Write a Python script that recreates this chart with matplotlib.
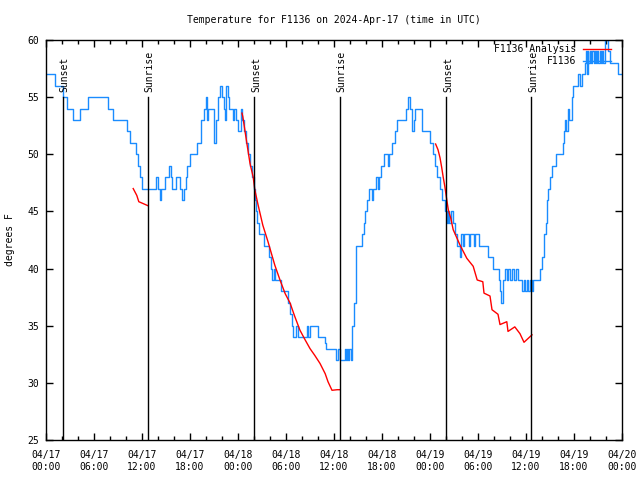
import matplotlib
matplotlib.use("Agg")
import matplotlib.pyplot as plt
import numpy as np

# ---------------- data (hours since 2024-04-17 00:00 UTC) ----------------
obs_hours = [0.0, 1.1, 2.1, 2.6, 3.4, 4.2, 5.2, 7.8, 8.4, 10.1, 10.5, 11.3, 11.5, 11.8, 11.95,
             13.7, 14.0, 14.2, 14.4, 14.9, 15.4, 15.6, 15.8, 16.3, 16.8, 17.0, 17.25, 17.5, 17.6,
             18.0, 18.9, 19.4, 19.7, 19.95, 20.15, 20.3, 21.0, 21.25, 21.5, 21.7, 22.05, 22.25,
             22.35, 22.45, 22.7, 22.85, 23.35, 23.55, 23.75, 23.95, 24.35, 24.55, 24.75, 25.0,
             25.3, 25.5, 25.75, 25.95, 26.15, 26.25, 26.4, 26.6, 27.3, 27.9, 28.1, 28.3, 28.5,
             28.6, 29.4, 30.2, 30.5, 30.8, 30.9, 31.2, 31.5, 32.6, 32.7, 33.0, 34.0, 34.9, 35.0,
             36.3, 36.45, 36.75, 37.4, 37.5, 37.65, 37.8, 37.9, 38.1, 38.2, 38.3, 38.5, 38.75,
             38.8, 39.5, 39.75, 39.9, 40.1, 40.4, 40.7, 40.9, 41.2, 41.5, 41.6, 41.9, 42.2, 42.7,
             42.9, 43.2, 43.6, 43.9, 45.0, 45.3, 45.5, 45.8, 45.95, 46.1, 47.0, 48.0, 48.35,
             48.6, 48.85, 49.2, 49.5, 49.85, 50.1, 50.3, 50.4, 50.6, 50.9, 51.1, 51.4, 51.7,
             51.9, 52.1, 52.3, 52.9, 53.0, 53.5, 53.6, 54.1, 55.2, 55.9, 56.6, 56.8, 56.9, 57.1,
             57.4, 57.6, 57.8, 58.0, 58.2, 58.5, 58.7, 59.0, 59.5, 59.7, 59.9, 60.1, 60.3, 60.5,
             60.7, 60.9, 61.7, 62.0, 62.3, 62.45, 62.6, 62.75, 63.0, 63.2, 63.7, 64.6, 64.7,
             64.85, 65.0, 65.2, 65.4, 65.7, 65.9, 66.45, 66.8, 67.0, 67.35, 67.5, 67.6, 67.7,
             67.8, 68.0, 68.15, 68.3, 68.45, 68.6, 68.75, 68.9, 69.05, 69.2, 69.35, 69.5, 69.65,
             69.85, 70.2, 70.45, 71.5, 72.0]
obs_temp = [57, 56, 55, 54, 53, 54, 55, 54, 53, 52, 51, 50, 49, 48, 47,
            48, 47, 46, 47, 48, 49, 48, 47, 48, 47, 46, 47, 48, 49,
            50, 51, 53, 54, 55, 53, 54, 51, 53, 55, 56, 55, 54,
            53, 56, 55, 54, 53, 54, 53, 52, 54, 53, 52, 51,
            50, 49, 48, 47, 46, 45, 44, 43, 42, 41, 40, 39, 40,
            39, 38, 37, 36, 35, 34, 35, 34, 35, 34, 35, 34, 33.5, 33,
            32, 33, 32, 33, 32, 33, 32, 33, 32, 33, 35, 37, 41,
            42, 43, 44, 45, 46, 47, 46, 47, 48, 47, 48, 49, 50, 49,
            50, 51, 52, 53, 54, 55, 54, 52, 53, 54, 52, 51, 50,
            49, 48, 47, 46, 45, 44, 45, 44, 45, 44, 43, 42, 41,
            43, 42, 43, 42, 43, 42, 43, 42, 41, 40, 39, 38, 37, 39,
            40, 39, 40, 39, 40, 39, 40, 39, 38, 39, 38, 39, 38, 39,
            38, 39, 40, 41, 43, 44, 46, 47, 48, 49, 50, 51, 52,
            53, 52, 54, 53, 55, 56, 57, 56, 57, 58, 59, 57, 59,
            58, 59, 58, 59, 58, 59, 58, 59, 58, 59, 58, 59, 58,
            60, 59, 58, 57, 57]

ana_hours = [10.9, 11.35, 11.6, 12.1, 12.75, np.nan,
             24.5, 24.6, 25.1, 25.5, 25.9, 26.1, 26.5, 27.1, 27.75, 28.6, 29.25, 29.9,
             30.5, 31.1, 31.75, 32.4, 33.0, 33.6, 34.25, 34.9, 35.25, 35.75, 36.4, 36.75, np.nan,
             48.7, 49.0, 49.25, 49.45, 49.65, 49.85, 50.1, 50.3, 50.6, 50.9, 51.75, 52.6,
             53.4, 53.9, 54.6, 54.75, 55.5, 55.75, 56.5, 56.75, 57.6, 57.75, 58.6, 59.25,
             59.75, 60.75]
ana_temp = [47.0, 46.4, 45.85, 45.7, 45.5, np.nan,
            53.6, 53.3, 51.0, 49.2, 48.0, 46.9, 45.6, 43.8, 42.35, 40.3, 39.0, 37.8,
            37.0, 35.8, 34.6, 33.75, 33.0, 32.4, 31.7, 30.8, 30.1, 29.35, 29.4, 29.4, np.nan,
            50.9, 50.4, 49.7, 48.9, 48.0, 47.2, 46.0, 45.1, 44.4, 43.4, 42.06, 40.9,
            40.2, 39.0, 38.85, 37.85, 37.6, 36.4, 36.0, 35.1, 35.35, 34.5, 34.9, 34.3,
            33.55, 34.2]

sunset_hours = [2.15, 26.05, 50.05]
sunrise_hours = [12.78, 36.75, 60.68]

tick_hours = [0, 6, 12, 18, 24, 30, 36, 42, 48, 54, 60, 66, 72]
tick_labels = ["04/17\n00:00", "04/17\n06:00", "04/17\n12:00", "04/17\n18:00",
               "04/18\n00:00", "04/18\n06:00", "04/18\n12:00", "04/18\n18:00",
               "04/19\n00:00", "04/19\n06:00", "04/19\n12:00", "04/19\n18:00",
               "04/20\n00:00"]
y_ticks = [25, 30, 35, 40, 45, 50, 55, 60]

title = "Temperature for F1136 on 2024-Apr-17 (time in UTC)"

# ---------------- figure ----------------
plt.rcParams['font.family'] = ['DejaVu Sans Mono']
FS = 7

fig = plt.figure(figsize=(6.4, 4.8), dpi=100)
ax = fig.add_axes([46/640, 40/480, 576/640, 400/480])

blue = '#1a8cff'
red = '#ff0000'

ax.plot(ana_hours, ana_temp, color=red, lw=1.0, label='F1136 Analysis', zorder=3)
ax.plot(obs_hours, obs_temp, color=blue, lw=1.0, drawstyle='steps-post', label='F1136', zorder=2)

line_top = (440 - 97) / 400
text_bot = (440 - 92) / 400
for h in sunset_hours:
    ax.axvline(h, ymin=0, ymax=line_top, color='black', lw=1.0, zorder=4)
    ax.text(h + 0.2, text_bot, 'Sunset', rotation=90, ha='center', va='bottom',
            fontsize=FS, transform=ax.get_xaxis_transform())
for h in sunrise_hours:
    ax.axvline(h, ymin=0, ymax=line_top, color='black', lw=1.0, zorder=4)
    ax.text(h + 0.2, text_bot, 'Sunrise', rotation=90, ha='center', va='bottom',
            fontsize=FS, transform=ax.get_xaxis_transform())

ax.set_xlim(0, 72)
ax.set_ylim(25, 60)
ax.set_xticks(tick_hours)
ax.set_xticklabels(tick_labels, fontsize=FS, linespacing=1.25)
ax.set_xticks(np.arange(0, 73, 2), minor=True)
ax.set_yticks(y_ticks)
ax.set_yticklabels([str(v) for v in y_ticks], fontsize=FS)
ax.tick_params(axis='both', which='major', direction='in', length=5, width=1,
               top=True, right=True)
ax.tick_params(axis='x', which='minor', direction='in', length=3, width=1,
               top=True, bottom=True)
ax.tick_params(axis='x', which='major', pad=7)
ax.tick_params(axis='y', which='major', pad=5)
for s in ax.spines.values():
    s.set_linewidth(1.0)
    s.set_color('black')

leg = ax.legend(loc='upper right', bbox_to_anchor=((611-46)/576, (440-44)/400),
                frameon=False, markerfirst=False, fontsize=FS, borderpad=0,
                borderaxespad=0, handlelength=2.9, handletextpad=0.7,
                labelspacing=0.25)

fig.text(334/640, 1 - 20/480, title, ha='center', va='center', fontsize=FS)
fig.text(10/640, 0.5, 'degrees F', rotation=90, ha='center', va='center', fontsize=FS)

fig.savefig('out.png', dpi=100)
